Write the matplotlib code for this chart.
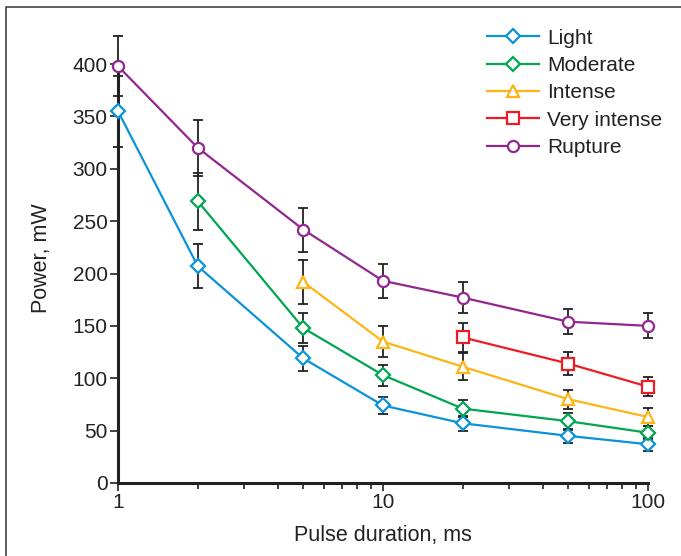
import numpy as np
import matplotlib
matplotlib.use("Agg")
import matplotlib.pyplot as plt
from matplotlib.lines import Line2D
from matplotlib.ticker import NullFormatter, LogLocator

plt.rcParams['font.family'] = ['Liberation Sans', 'DejaVu Sans']

# pulse durations (ms)
light_x = [1, 2, 5, 10, 20, 50, 100]
light_y = [355, 207, 119, 74, 57, 45, 37]
light_err = [34, 21, 12, 8, 7, 7, 6]

moderate_x = [2, 5, 10, 20, 50, 100]
moderate_y = [269, 148, 103, 71, 59, 48]
moderate_err = [27, 14, 10, 8, 8, 6]

intense_x = [5, 10, 20, 50, 100]
intense_y = [192, 135, 111, 80, 63]
intense_err = [21, 15, 13, 9, 9]

very_x = [20, 50, 100]
very_y = [139, 114, 92]
very_err = [14, 11, 9]

rupture_x = [1, 2, 5, 10, 20, 50, 100]
rupture_y = [398, 320, 242, 193, 177, 154, 150]
rupture_err = [29, 27, 21, 16, 15, 12, 12]

series = [
    ("Light", light_x, light_y, light_err, '#0a93d8', 'D'),
    ("Moderate", moderate_x, moderate_y, moderate_err, '#00a651', 'D'),
    ("Intense", intense_x, intense_y, intense_err, '#fdb515', '^'),
    ("Very intense", very_x, very_y, very_err, '#ed1c24', 's'),
    ("Rupture", rupture_x, rupture_y, rupture_err, '#92278f', 'o'),
]

fig = plt.figure(figsize=(6.81, 5.56), dpi=100)
ax = fig.add_axes([118/681, 1-483/556, 530/681, (483-32.6)/556])

for name, xs, ys, es, col, mk in series:
    _, caps, bars = ax.errorbar(xs, ys, yerr=es, fmt='none', ecolor='#222222',
                                elinewidth=1.3, capsize=3.5, capthick=1.3, zorder=2)
    for c in caps:
        c.set_clip_on(False)
    for b in bars:
        b.set_clip_on(False)
    ms = 7.5 if mk == 'D' else 8
    ax.plot(xs, ys, color=col, lw=1.6, marker=mk, ms=ms, mfc='white',
            mec=col, mew=1.6, label=name, zorder=3, clip_on=False)

ax.set_xscale('log')
ax.set_xlim(1, 100)
ax.set_ylim(0, 430)
ax.set_xticks([1, 10, 100])
ax.set_xticklabels(['1', '10', '100'])
ax.xaxis.set_minor_locator(LogLocator(base=10, subs=np.arange(2, 10)))
ax.xaxis.set_minor_formatter(NullFormatter())
ax.set_yticks(np.arange(0, 401, 50))

for s in ['top', 'right']:
    ax.spines[s].set_visible(False)
for s in ['left', 'bottom']:
    ax.spines[s].set_linewidth(2.2)
    ax.spines[s].set_color('#222222')
ax.spines['left'].set_bounds(0, 400)

ax.tick_params(axis='both', which='major', length=5.5, width=1.2, color='#222222',
               labelsize=15, labelcolor='#222222', pad=2)
ax.tick_params(axis='x', which='minor', length=4.5, width=1.2, color='#222222')

ax.set_xlabel('Pulse duration, ms', fontsize=15.5, color='#222222', labelpad=9)
ax.set_ylabel('Power, mW', fontsize=15.5, color='#222222', labelpad=15)

leg = ax.legend(loc='upper left', frameon=False,
                fontsize=15, handlelength=2.5, handletextpad=0.4,
                labelspacing=0.4, borderaxespad=0, borderpad=0)
leg.set_bbox_to_anchor(((487-118)/530, 1.0 + 4/450), transform=ax.transAxes)
for t in leg.get_texts():
    t.set_color('#222222')

# figure frame (left and top)
fig.add_artist(Line2D([6/681, 6/681, 1], [0, 1-7/556, 1-7/556],
                      transform=fig.transFigure, color='#444444', lw=1.2))

fig.savefig('out.png', dpi=100)
